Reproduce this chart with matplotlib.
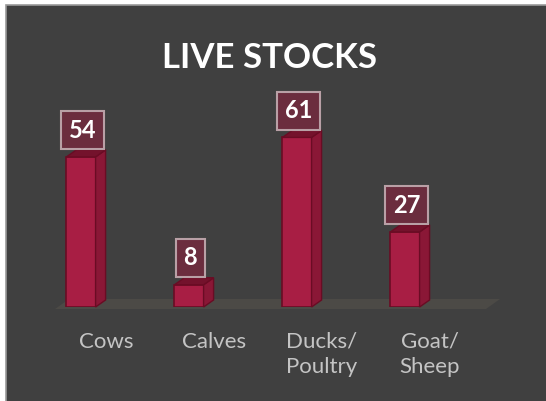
import matplotlib.pyplot as plt
from matplotlib.patches import Polygon, Rectangle
from matplotlib.transforms import IdentityTransform
import numpy as np

categories = ["Cows", "Calves", "Ducks/\nPoultry", "Goat/\nSheep"]
values = [54, 8, 61, 27]
title = "LIVE STOCKS"

W, H = 546, 401
fig = plt.figure(figsize=(W / 100, H / 100), dpi=100, facecolor="white")

# dark panel with light top/left edge
fig.patches.append(Rectangle((6 / W, -0.01), 1, 1.01 - 5 / H, transform=fig.transFigure,
                             facecolor="#404040", edgecolor="#9a9a9a", lw=1.2, zorder=-5))

ax = fig.add_axes([27 / W, (H - 307) / H, 432 / W, 194.6 / H], zorder=2)
ax.set_xlim(-0.5, 3.5)
ax.set_ylim(0, 70)
ax.set_autoscale_on(False)
ax.patch.set_alpha(0)
for s in ax.spines.values():
    s.set_visible(False)
ax.set_yticks([])

x = np.arange(len(values))
bw = 0.27
front = "#a81e44"
side = "#8a1736"
top = "#74122c"
edge = "#6a0c24"
dx, dy = 10, 7  # depth in pixels

fig.canvas.draw()
T = ax.transData
I = IdentityTransform()

# floor
fl = T.transform([(-0.24, 0), (3.75, 0)])
fy = fl[0][1] - 2
ax.add_patch(Polygon([(fl[0][0], fy), (fl[1][0], fy), (fl[1][0] + 14, fy + 10), (fl[0][0] + 14, fy + 10)],
                     closed=True, transform=I, facecolor="#4c4a46", edgecolor="none",
                     zorder=1, clip_on=False))

ax.bar(x, values, width=bw, color=front, edgecolor=edge, lw=1.2, zorder=3)

for xi, v in zip(x, values):
    (x0, y0), (x1, y1) = T.transform([(xi - bw / 2, 0), (xi + bw / 2, v)])
    ax.add_patch(Polygon([(x1, y0), (x1, y1), (x1 + dx, y1 + dy), (x1 + dx, y0 + dy)],
                         closed=True, transform=I, facecolor=side, edgecolor=edge, lw=1.0,
                         zorder=3, clip_on=False))
    ax.add_patch(Polygon([(x0, y1), (x1, y1), (x1 + dx, y1 + dy), (x0 + dx, y1 + dy)],
                         closed=True, transform=I, facecolor=top, edgecolor=edge, lw=1.0,
                         zorder=3, clip_on=False))
    ax.annotate(str(v), (xi, v), xytext=(1, 11), textcoords="offset points",
                ha="center", va="bottom", color="white", fontsize=17, fontweight="bold",
                family="Lato", zorder=5, annotation_clip=False,
                bbox=dict(boxstyle="square,pad=0.32", facecolor="#6b2d3e",
                          edgecolor="#b9a0a6", lw=1.5))

ax.set_xticks(x + 0.23)
ax.set_xticklabels(categories, color="#c4c4c4", fontsize=16, family="Lato", linespacing=1.3)
ax.tick_params(axis="x", length=0, pad=18)

fig.text(270 / W, 1 - 68 / H, title, ha="center", va="baseline", color="white",
         fontsize=25, fontweight="bold", family="Lato")

fig.savefig("out.png", dpi=100)
